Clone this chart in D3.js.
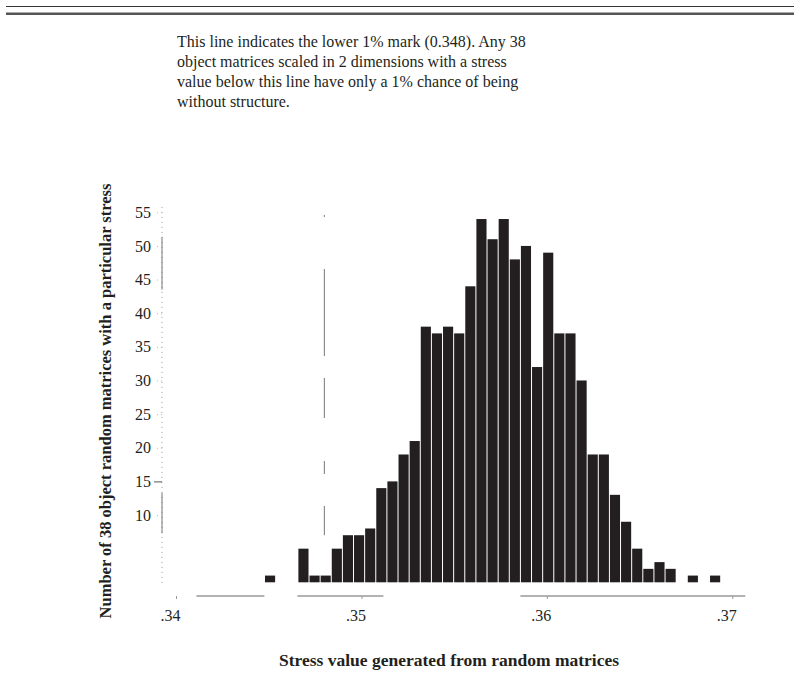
<!DOCTYPE html>
<html>
<head>
<meta charset="utf-8">
<script src="https://cdn.jsdelivr.net/npm/d3@7/dist/d3.min.js"></script>
<style>
  html, body { margin: 0; padding: 0; background: #fff; }
  svg { display: block; }
  text { font-family: "Liberation Serif", "Times New Roman", serif; fill: #231f20; }
</style>
</head>
<body>
<div id="chart"></div>
<script>
// ---- data ----
const binWidth = 0.0006;
const binStarts = [0.3448, 0.3454, 0.3460, 0.3466, 0.3472, 0.3478, 0.3484, 0.3490, 0.3496, 0.3502,
                   0.3508, 0.3514, 0.3520, 0.3526, 0.3532, 0.3538, 0.3544, 0.3550, 0.3556, 0.3562,
                   0.3568, 0.3574, 0.3580, 0.3586, 0.3592, 0.3598, 0.3604, 0.3610, 0.3616, 0.3622,
                   0.3628, 0.3634, 0.3640, 0.3646, 0.3652, 0.3658, 0.3664, 0.3670, 0.3676, 0.3682,
                   0.3688];
const counts = [1, 0, 0, 5, 1, 1, 5, 7, 7, 8,
                14, 15, 19, 21, 38, 37, 38, 37, 44, 54,
                51, 54, 48, 50, 32, 49, 37, 37, 30, 19,
                19, 13, 9, 5, 2, 3, 2, 0, 1, 0,
                1];
const xTicks = [0.34, 0.35, 0.36, 0.37];
const yTicks = [10, 15, 20, 25, 30, 35, 40, 45, 50, 55];
const cutoff = 0.348;
const noteLines = [
  "This line indicates the lower 1% mark (0.348). Any 38",
  "object matrices scaled in 2 dimensions with a stress",
  "value below this line have only a 1% chance of being",
  "without structure."
];
const xTitle = "Stress value generated from random matrices";
const yTitle = "Number of 38 object random matrices with a particular stress";

// ---- layout ----
const W = 794, H = 679;
const svg = d3.select("#chart").append("svg").attr("width", W).attr("height", H);
svg.append("rect").attr("width", W).attr("height", H).attr("fill", "#fff");

const x = d3.scaleLinear().domain([0.34, 0.37]).range([176, 732.3]);
const y = d3.scaleLinear().domain([0, 55]).range([582.3, 212.3]);
const axisY = 596;   // x-axis baseline
const axisX = 162;   // y-axis line

// top rules
svg.append("line").attr("x1", 6).attr("x2", W).attr("y1", 6.5).attr("y2", 6.5)
  .attr("stroke", "#333").attr("stroke-width", 1.2);
svg.append("line").attr("x1", 6).attr("x2", W).attr("y1", 13.8).attr("y2", 13.8)
  .attr("stroke", "#555").attr("stroke-width", 2.6);

// annotation
const note = svg.append("text").attr("font-size", 16);
noteLines.forEach((t, i) => {
  note.append("tspan").attr("x", 177).attr("y", 47 + i * 20).text(t);
});

// bars
svg.append("g").selectAll("rect")
  .data(counts.map((c, i) => ({ x0: binStarts[i], c })).filter(d => d.c > 0))
  .join("rect")
  .attr("x", d => x(d.x0))
  .attr("width", d => x(d.x0 + binWidth) - x(d.x0) - 1)
  .attr("y", d => y(d.c))
  .attr("height", d => y(0) - y(d.c))
  .attr("fill", "#231f20");

// 1% cutoff line (broken, as scanned)
svg.append("line")
  .attr("x1", x(cutoff)).attr("x2", x(cutoff))
  .attr("y1", y(54.6)).attr("y2", y(7))
  .attr("stroke", "#777").attr("stroke-width", 1)
  .attr("stroke-dasharray", "2,52,87,22,40,43,13,32,60");

// y axis line (faint dotted, with two solid stretches as in the scan)
svg.append("line")
  .attr("x1", axisX).attr("x2", axisX)
  .attr("y1", y(55.8)).attr("y2", y(-0.7))
  .attr("stroke", "#999").attr("stroke-width", 1)
  .attr("stroke-dasharray", "1,4");
[[51.3, 43.5], [13.3, 7.3]].forEach(([a, b]) => {
  svg.append("line").attr("x1", axisX).attr("x2", axisX)
    .attr("y1", y(a)).attr("y2", y(b))
    .attr("stroke", "#777").attr("stroke-width", 1);
});

// y axis ticks + labels
const yAxis = d3.axisLeft(y).tickValues(yTicks).tickSize(8).tickPadding(3).tickFormat(d3.format("d"));
const gy = svg.append("g").attr("transform", `translate(${axisX},0)`).call(yAxis);
gy.select(".domain").remove();
gy.selectAll(".tick line").attr("stroke", "#bbb").attr("stroke-dasharray", "1,3")
  .filter(d => d === 15).attr("stroke", "#555").attr("stroke-dasharray", null);
gy.selectAll(".tick text").attr("font-size", 16).attr("font-family", "Liberation Serif")
  .attr("fill", "#231f20");

// x axis baseline (broken)
svg.append("line")
  .attr("x1", x(0.3411)).attr("x2", x(0.3707))
  .attr("y1", axisY).attr("y2", axisY)
  .attr("stroke", "#999").attr("stroke-width", 1.3)
  .attr("stroke-dasharray", "68,33,86,137,300");

// x axis ticks + labels
const xAxis = d3.axisBottom(x).tickValues(xTicks).tickSize(3).tickPadding(11)
  .tickFormat(d => d3.format(".2f")(d).replace(/^0/, ""));
const gx = svg.append("g").attr("transform", `translate(0,${axisY})`).call(xAxis);
gx.select(".domain").remove();
gx.selectAll(".tick line").attr("stroke", "#999");
gx.selectAll(".tick text").attr("font-size", 16).attr("font-family", "Liberation Serif")
  .attr("fill", "#231f20").attr("dx", -6);

// titles
svg.append("text").attr("x", 449).attr("y", 666).attr("text-anchor", "middle")
  .attr("font-size", 17.5).attr("font-weight", "bold").text(xTitle);
svg.append("text").attr("transform", "translate(111,401) rotate(-90)")
  .attr("text-anchor", "middle").attr("font-size", 16.5).attr("font-weight", "bold").text(yTitle);
</script>
</body>
</html>
